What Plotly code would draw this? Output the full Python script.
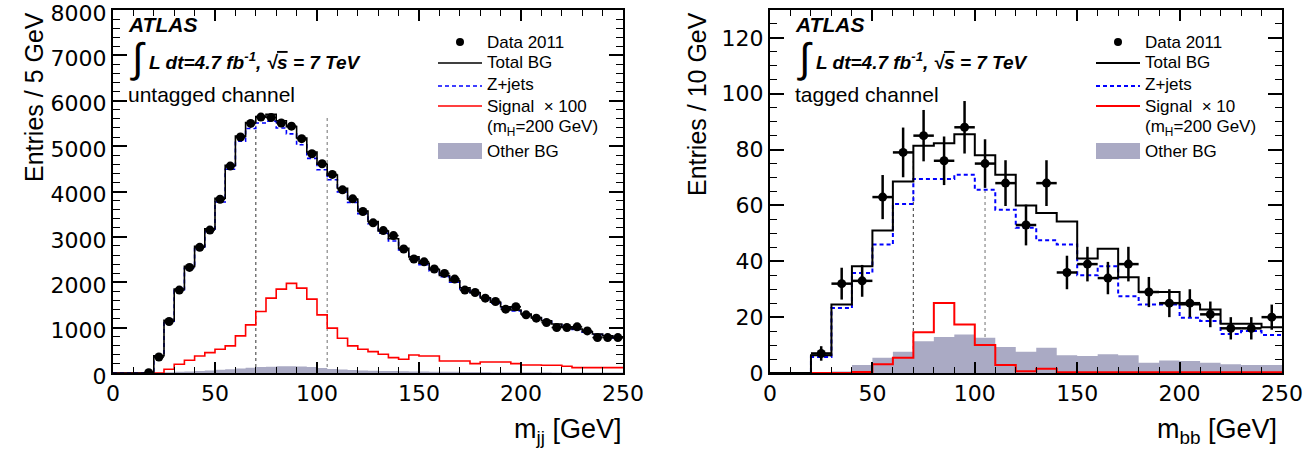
import numpy as np
import plotly.graph_objects as go

W, H = 1307, 454
FONT = "Liberation Sans, Arial, Helvetica, sans-serif"
TICKFONT = "DejaVu Sans, Liberation Sans, sans-serif"

# ---------------- untagged channel (5 GeV bins, 0-250 GeV) ----------------
bin_w_untag = 5
data_untag = [None, None, None, 5, 353, 1134, 1827, 2327, 2770, 3150,
              3830, 4560, 5200, 5500, 5640, 5630, 5510, 5440, 5165, 4833,
              4612, 4376, 4037, 3838, 3560, 3310, 3138, 3028, 2733, 2512,
              2450, 2291, 2195, 2070, 1827, 1775, 1650, 1576, 1407, 1459,
              1282, 1208, 1112, 1002, 1002, 1017, 928, 781, 781, 781]
total_untag = [0, 0, 0, 0, 380, 1160, 1850, 2350, 2790, 3180,
               3850, 4580, 5220, 5520, 5650, 5700, 5560, 5430, 5180, 4870,
               4600, 4360, 4070, 3830, 3570, 3340, 3130, 2960, 2750, 2560,
               2420, 2280, 2150, 2030, 1880, 1770, 1660, 1560, 1460, 1390,
               1300, 1220, 1150, 1080, 1020, 970, 910, 860, 820, 780]
zjets_untag = [0, 0, 0, 0, 370, 1140, 1820, 2310, 2740, 3120,
               3770, 4490, 5110, 5390, 5510, 5550, 5400, 5270, 5030, 4730,
               4480, 4260, 3990, 3760, 3510, 3290, 3080, 2910, 2710, 2520,
               2385, 2250, 2120, 2000, 1855, 1745, 1640, 1540, 1440, 1370,
               1285, 1205, 1135, 1065, 1008, 958, 900, 850, 810, 770]
other_untag = [0, 0, 0, 0, 5, 15, 25, 35, 45, 55,
               70, 85, 100, 115, 130, 140, 150, 150, 145, 130,
               110, 90, 75, 65, 55, 50, 45, 42, 38, 35,
               32, 30, 28, 26, 24, 22, 20, 19, 18, 17,
               16, 15, 14, 13, 12, 12, 11, 11, 10, 10]
signal_untag = [0, 0, 0, 0, 0, 81, 192, 280, 375, 450,
                523, 597, 818, 1060, 1355, 1650, 1849, 1975, 1871, 1628,
                1282, 988, 766, 597, 523, 471, 412, 338, 302, 397,
                375, 375, 265, 265, 265, 206, 243, 243, 243, 206,
                177, 177, 170, 170, 150, 118, 118, 118, 118, 118]

# ---------------- tagged channel (10 GeV bins, 0-250 GeV) ----------------
bin_w_tag = 10
data_tag = [None, None, 7, 32, 33, 63, 79, 85, 76, 88,
            75, 68, 53, 68, 36, 39, 34, 39, 29, 25,
            25, 21, 16, 16, 20]
data_tag_err = [None, None, 2.6, 5.7, 5.7, 7.9, 8.9, 9.2, 8.7, 9.4,
                8.7, 8.2, 7.3, 8.2, 6.0, 6.2, 5.8, 6.2, 5.4, 5.0,
                5.0, 4.6, 4.0, 4.0, 4.5]
total_tag = [0, 0, 6.4, 24.5, 38.2, 51, 68.6, 81.4, 82.3, 85.5,
             78, 71, 60, 57.3, 54.3, 41, 44.5, 34.3, 29, 29,
             24.5, 22.7, 17.6, 17.6, 16.4]
zjets_tag = [0, 0, 5.7, 23.3, 35.8, 46, 60.5, 69.5, 69.5, 71,
             65.6, 58.5, 52, 47.5, 46, 35, 38.2, 27.5, 24.5, 24.5,
             19.8, 18.6, 14, 15, 13.6]
other_tag = [0, 0, 0, 0.5, 2.9, 5.5, 7.6, 11.4, 12.9, 13.8,
             12.6, 9.3, 7.6, 9.0, 6.4, 6.1, 6.7, 6.4, 3.7, 4.5,
             4.3, 3.7, 3.1, 2.9, 2.9]
signal_tag = [0, 0, 0, 0, 0.4, 3.1, 5.5, 14.6, 25.1, 17.4,
              10, 2.9, 0.6, 1.5, 0.3, 0.3, 0.3, 0.3, 0.3, 0.3,
              0.3, 0.3, 0.3, 0.3, 0.3]

# mass window markers and their heights
window_edges = [70, 105]
window_top_untag = [5450, 5640]
window_top_tag = [76, 76]

x_ticks = [0, 50, 100, 150, 200, 250]
y_ticks_untag = [0, 1000, 2000, 3000, 4000, 5000, 6000, 7000, 8000]
y_ticks_tag = [0, 20, 40, 60, 80, 100, 120]

legend_labels_untag = ["Data 2011", "Total BG", "Z+jets", "Signal  \u00d7 100",
                       "(m<sub>H</sub>=200 GeV)", "Other BG"]
legend_labels_tag = ["Data 2011", "Total BG", "Z+jets", "Signal  \u00d7 10",
                     "(m<sub>H</sub>=200 GeV)", "Other BG"]

# ---------------- colours ----------------
C_DATA = "black"
C_TOTAL = "black"
C_ZJ = "#0000ff"
C_SIG = "#ff0000"
C_OTHER = "#aaaac4"
ZJ_DASH = "4px,3px"


def edges_of(vals, bw):
    e = np.arange(len(vals) + 1) * bw
    return e, list(vals) + [vals[-1]]


def centers_of(vals, bw):
    return (np.arange(len(vals)) + 0.5) * bw


fig = go.Figure()


def add_panel(xa, ya, bw, data, derr, total, zj, other, sig, lw, msize, ebw):
    e, v = edges_of(other, bw)
    fig.add_trace(go.Scatter(x=e, y=v, mode="lines", line=dict(shape="hv", width=0, color=C_OTHER),
                             fill="tozeroy", fillcolor=C_OTHER, name="Other BG", xaxis=xa, yaxis=ya,
                             showlegend=False))
    e, v = edges_of(sig, bw)
    fig.add_trace(go.Scatter(x=e, y=v, mode="lines", line=dict(shape="hv", width=lw, color=C_SIG),
                             name="Signal", xaxis=xa, yaxis=ya, showlegend=False))
    e, v = edges_of(zj, bw)
    fig.add_trace(go.Scatter(x=e, y=v, mode="lines",
                             line=dict(shape="hv", width=lw, color=C_ZJ, dash=ZJ_DASH),
                             name="Z+jets", xaxis=xa, yaxis=ya, showlegend=False))
    e, v = edges_of(total, bw)
    fig.add_trace(go.Scatter(x=e, y=v, mode="lines", line=dict(shape="hv", width=lw, color=C_TOTAL),
                             name="Total BG", xaxis=xa, yaxis=ya, showlegend=False))
    c = centers_of(data, bw)
    ey = dict(type="data", array=derr, visible=True, thickness=ebw, width=0, color="black") if derr else None
    fig.add_trace(go.Scatter(x=c, y=data, mode="markers",
                             marker=dict(symbol="circle", size=msize, color=C_DATA),
                             error_x=dict(type="constant", value=bw / 2, thickness=ebw, width=0, color="black"),
                             error_y=ey,
                             name="Data 2011", xaxis=xa, yaxis=ya, showlegend=False))


add_panel("x", "y", bin_w_untag, data_untag, None, total_untag, zjets_untag,
          other_untag, signal_untag, 1.6, 9, 1.5)
add_panel("x2", "y2", bin_w_tag, data_tag, data_tag_err, total_tag, zjets_tag,
          other_tag, signal_tag, 2.0, 9, 2.5)

shapes = []
for xr, yr, tops in (("x", "y", window_top_untag), ("x2", "y2", window_top_tag)):
    for xe, top, col in zip(window_edges, tops, ["#555555", "#888888"]):
        shapes.append(dict(type="line", xref=xr, yref=yr, x0=xe, x1=xe, y0=0, y1=top,
                           line=dict(color=col, width=1.2, dash="3px,3px"), layer="below"))

axis_common = dict(showline=True, linecolor="black", linewidth=2, mirror="allticks",
                   ticks="inside", tickcolor="black", tickwidth=1.5, showgrid=False, zeroline=False,
                   ticklabeloverflow="allow", automargin=False,
                   tickfont=dict(family=TICKFONT, size=22, color="black"))

x_dom1 = [113 / W, 623 / W]
x_dom2 = [770 / W, 1282 / W]
y_dom = [(H - 373) / H, (H - 10) / H]

fig.update_layout(
    width=W, height=H, margin=dict(l=0, r=0, t=0, b=0, autoexpand=False),
    paper_bgcolor="white", plot_bgcolor="white",
    font=dict(family=FONT, color="black"),
    showlegend=False,
    xaxis=dict(domain=x_dom1, range=[0, 250], tickvals=x_ticks, ticklen=11, anchor="y",
               minor=dict(dtick=10, tick0=0, ticklen=6, ticks="inside", tickwidth=1.2, tickcolor="black"),
               **axis_common),
    yaxis=dict(domain=y_dom, range=[0, 8000], tickvals=y_ticks_untag, ticklen=14, anchor="x",
               ticklabelshift=3,
               minor=dict(dtick=200, tick0=0, ticklen=7, ticks="inside", tickwidth=1.2, tickcolor="black"),
               **axis_common),
    xaxis2=dict(domain=x_dom2, range=[0, 250], tickvals=x_ticks, ticklen=11, anchor="y2",
                minor=dict(dtick=10, tick0=0, ticklen=6, ticks="inside", tickwidth=1.2, tickcolor="black"),
                **axis_common),
    yaxis2=dict(domain=y_dom, range=[0, 130], tickvals=y_ticks_tag, ticklen=14, anchor="x2",
                minor=dict(dtick=5, tick0=0, ticklen=7, ticks="inside", tickwidth=1.2, tickcolor="black"),
                **axis_common),
)

ann = []


def px(x):
    return x / W


def py(y):
    return 1 - y / H


def add_text(x, y, text, size, xanchor="left", yanchor="middle", angle=0, family=FONT):
    ann.append(dict(x=px(x), y=py(y), xref="paper", yref="paper", text=text, showarrow=False,
                    xanchor=xanchor, yanchor=yanchor, textangle=angle,
                    font=dict(family=family, size=size, color="black")))


# ---------------- legends (drawn in paper space) ----------------
def add_legend(x0, labels, lw):
    sx0, sx1 = x0, x0 + 44
    tx = x0 + 50
    rows = [42, 63, 84, 106, 126, 151]
    cx, cy, r = (sx0 + sx1) / 2, rows[0], 4
    shapes.append(dict(type="circle", xref="paper", yref="paper", x0=px(cx - r), x1=px(cx + r),
                       y0=py(cy + r), y1=py(cy - r), fillcolor="black", line=dict(width=0)))
    shapes.append(dict(type="line", xref="paper", yref="paper", x0=px(sx0), x1=px(sx1),
                       y0=py(rows[1]), y1=py(rows[1]), line=dict(color=C_TOTAL, width=lw)))
    shapes.append(dict(type="line", xref="paper", yref="paper", x0=px(sx0), x1=px(sx1),
                       y0=py(rows[2] + 2), y1=py(rows[2] + 2), line=dict(color=C_ZJ, width=lw, dash=ZJ_DASH)))
    shapes.append(dict(type="line", xref="paper", yref="paper", x0=px(sx0), x1=px(sx1),
                       y0=py(rows[3]), y1=py(rows[3]), line=dict(color=C_SIG, width=lw)))
    shapes.append(dict(type="rect", xref="paper", yref="paper", x0=px(sx0), x1=px(sx1),
                       y0=py(rows[5] + 8), y1=py(rows[5] - 8), fillcolor=C_OTHER, line=dict(width=0)))
    for lab, yy in zip(labels, rows):
        add_text(tx - 3, yy + (2 if "sub" in lab else 0), lab, 17)


add_legend(438, legend_labels_untag, 1.6)
add_legend(1096, legend_labels_tag, 2.0)

for x0, channel in ((126, "untagged channel"), (793, "tagged channel")):
    add_text(x0, 25, "<b><i>ATLAS</i></b>", 21)
    add_text(x0 + 2, 58, "\u222b", 41)
    add_text(x0 + 21, 61,
             "<b><i>L dt=4.7 fb<sup>-1</sup>, \u221a<span style='text-decoration:overline'>s</span> = 7 TeV</i></b>",
             19)
    add_text(x0, 94, channel, 21)

add_text(34, 10, "Entries / 5 GeV", 25, xanchor="center", yanchor="top", angle=-90)
add_text(697, 10, "Entries / 10 GeV", 25, xanchor="center", yanchor="top", angle=-90)
add_text(623, 431, "m<sub>jj</sub> [GeV]", 27, xanchor="right")
add_text(1279, 431, "m<sub>bb</sub> [GeV]", 27, xanchor="right")

fig.update_layout(annotations=ann, shapes=shapes)

fig.write_html("out.html")
